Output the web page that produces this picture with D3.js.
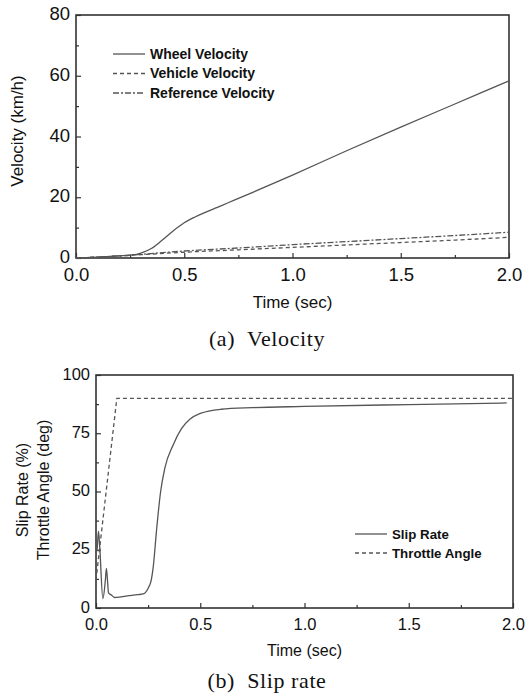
<!DOCTYPE html>
<html>
<head>
<meta charset="utf-8">
<script src="https://cdn.jsdelivr.net/npm/d3@7"></script>
<style>
  body { margin: 0; background: #fff; }
  svg { display: block; font-family: "Liberation Sans", Arial, sans-serif; }
  .caption { font-family: "Liberation Serif", "DejaVu Serif", serif; }
</style>
</head>
<body>
<div id="chart"></div>
<script>
/* Velocity and slip rate figure, two stacked panels */

// (a) velocity
const wheelTime = [0, 0.1, 0.2, 0.25, 0.28, 0.3, 0.35, 0.4, 0.45, 0.5, 0.55, 0.6, 0.65, 0.7, 0.8, 1.0, 1.25, 1.5, 1.75, 2.0];
const wheelVelocity = [0, 0.3, 0.7, 1.0, 1.2, 1.6, 3.2, 6.0, 9.0, 11.6, 13.5, 15.1, 16.6, 18.1, 21.1, 27.3, 35.3, 43.1, 50.7, 58.3];
const vehTime = [0, 0.1, 0.2, 0.25, 0.3, 0.5, 0.75, 1.0, 1.25, 1.5, 1.75, 2.0];
const vehicleVelocity = [0, 0.3, 0.7, 0.9, 1.1, 1.9, 2.7, 3.5, 4.3, 5.1, 5.9, 6.8];
const referenceVelocity = [0, 0.3, 0.7, 0.9, 1.2, 2.3, 3.3, 4.4, 5.4, 6.4, 7.4, 8.5];
const velTicks = [0, 20, 40, 60, 80];

// (b) slip rate
const slipTime = [0, 0.005, 0.012, 0.018, 0.033, 0.045, 0.05, 0.055, 0.06, 0.075, 0.09, 0.12, 0.15, 0.2, 0.23, 0.25, 0.265, 0.275, 0.29, 0.31, 0.33, 0.37, 0.41, 0.45, 0.5, 0.6, 0.75, 1.0, 1.5, 1.97];
const slipRate = [24, 25, 33, 26, 4, 12, 17, 12, 6.5, 5.5, 4.5, 4.8, 5.2, 5.7, 6.2, 8.5, 12, 18, 33, 50, 60, 70, 77, 81, 83.5, 85.3, 86, 86.5, 87.3, 88];
const throttleTime = [0, 0.1, 2.0];
const throttleAngle = [12, 90, 90];
const slipTicks = [0, 25, 50, 75, 100];

const timeTicks = [0, 0.5, 1.0, 1.5, 2.0];

const width = 526, height = 695;
const lineColor = "#555";
const frameColor = "#333";

const svg = d3.select("#chart")
  .append("svg")
  .attr("width", width)
  .attr("height", height);

function panel(opts) {
  const m = opts.box;
  const x = d3.scaleLinear().domain([0, 2]).range([m.left, m.right]);
  const y = d3.scaleLinear().domain(opts.yDomain).range([m.bottom, m.top]);
  const g = svg.append("g");

  // minor ticks (inward)
  const minorX = d3.range(0.25, 2, 0.5);
  g.append("g")
    .attr("transform", `translate(0,${m.bottom})`)
    .call(d3.axisBottom(x).tickValues(minorX).tickSize(-3).tickFormat(""))
    .call(a => a.select(".domain").remove())
    .call(a => a.selectAll("line").attr("stroke", frameColor).attr("stroke-width", 1.2));
  g.append("g")
    .attr("transform", `translate(${m.left},0)`)
    .call(d3.axisLeft(y).tickValues(opts.minorY).tickSize(-3).tickFormat(""))
    .call(a => a.select(".domain").remove())
    .call(a => a.selectAll("line").attr("stroke", frameColor).attr("stroke-width", 1.2));

  // major ticks + labels
  g.append("g")
    .attr("transform", `translate(0,${m.bottom})`)
    .call(d3.axisBottom(x).tickValues(timeTicks).tickSize(-5).tickPadding(10).tickFormat(d3.format(".1f")))
    .call(a => a.select(".domain").remove())
    .call(a => a.selectAll("line").attr("stroke", frameColor).attr("stroke-width", 1.2))
    .call(a => a.selectAll("text").attr("fill", "#111").style("font-size", opts.tickSize + "px"));
  g.append("g")
    .attr("transform", `translate(${m.left},0)`)
    .call(d3.axisLeft(y).tickValues(opts.yTicks).tickSize(-5).tickPadding(6))
    .call(a => a.select(".domain").remove())
    .call(a => a.selectAll("line").attr("stroke", frameColor).attr("stroke-width", 1.2))
    .call(a => a.selectAll("text").attr("fill", "#111").attr("dy", "0.25em").style("font-size", opts.tickSize + "px"));

  // frame
  g.append("rect")
    .attr("x", m.left).attr("y", m.top)
    .attr("width", m.right - m.left).attr("height", m.bottom - m.top)
    .attr("fill", "none").attr("stroke", frameColor).attr("stroke-width", 1.6);

  // series
  opts.series.forEach(s => {
    const pts = s.t.map((t, i) => [t, s.v[i]]);
    g.append("path")
      .datum(pts)
      .attr("d", d3.line().x(d => x(d[0])).y(d => y(d[1])).curve(s.curve || d3.curveMonotoneX))
      .attr("fill", "none")
      .attr("stroke", lineColor)
      .attr("stroke-width", 1.3)
      .attr("stroke-dasharray", s.dash || null);
  });

  // legend
  opts.series.forEach((s, i) => {
    const ly = opts.legend.y + i * opts.legend.step;
    g.append("line")
      .attr("x1", opts.legend.x).attr("x2", opts.legend.x + 32)
      .attr("y1", ly).attr("y2", ly)
      .attr("stroke", lineColor).attr("stroke-width", 1.3)
      .attr("stroke-dasharray", s.dash || null);
    g.append("text")
      .attr("x", opts.legend.x + 37).attr("y", ly)
      .attr("dy", "0.35em")
      .style("font-size", opts.legend.size + "px")
      .style("font-weight", "bold")
      .attr("fill", "#111")
      .text(s.name);
  });

  // axis titles
  g.append("text")
    .attr("x", (m.left + m.right) / 2)
    .attr("y", opts.xTitleY)
    .attr("text-anchor", "middle")
    .attr("dy", "0.35em")
    .style("font-size", opts.titleSize + "px")
    .attr("fill", "#111")
    .text("Time (sec)");

  opts.yTitle.forEach(t => {
    g.append("text")
      .attr("transform", `translate(${t.x},${t.y}) rotate(-90)`)
      .attr("text-anchor", "middle")
      .attr("dy", "0.35em")
      .style("font-size", opts.titleSize + "px")
      .attr("fill", "#111")
      .text(t.text);
  });

  svg.append("text")
    .attr("class", "caption")
    .attr("x", opts.caption.x)
    .attr("y", opts.caption.y)
    .attr("text-anchor", "middle")
    .attr("dy", "0.35em")
    .style("font-size", "22px")
    .style("letter-spacing", "0.6px")
    .style("white-space", "pre")
    .attr("fill", "#111")
    .text(opts.caption.text);
}

panel({
  box: { left: 76, right: 509, top: 15, bottom: 258 },
  yDomain: [0, 80],
  yTicks: velTicks,
  minorY: [10, 30, 50, 70],
  tickSize: 18.5,
  titleSize: 17,
  xTitleY: 302,
  yTitle: [{ x: 17, y: 131, text: "Velocity (km/h)" }],
  legend: { x: 113, y: 54, step: 19.5, size: 14 },
  caption: { x: 267, y: 338, text: "(a)  Velocity" },
  series: [
    { name: "Wheel Velocity", t: wheelTime, v: wheelVelocity },
    { name: "Vehicle Velocity", t: vehTime, v: vehicleVelocity, dash: "4,3" },
    { name: "Reference Velocity", t: vehTime, v: referenceVelocity, dash: "6,2,2,2" }
  ]
});

panel({
  box: { left: 96, right: 513, top: 375, bottom: 608 },
  yDomain: [0, 100],
  yTicks: slipTicks,
  minorY: [12.5, 37.5, 62.5, 87.5],
  tickSize: 16.5,
  titleSize: 16,
  xTitleY: 650,
  yTitle: [{ x: 22, y: 490, text: "Slip Rate (%)" }, { x: 43, y: 490, text: "Throttle Angle (deg)" }],
  legend: { x: 355, y: 534, step: 19, size: 13.3 },
  caption: { x: 267, y: 680, text: "(b)  Slip rate" },
  series: [
    { name: "Slip Rate", t: slipTime, v: slipRate },
    { name: "Throttle Angle", t: throttleTime, v: throttleAngle, dash: "4,3", curve: d3.curveLinear }
  ]
});
</script>
</body>
</html>
